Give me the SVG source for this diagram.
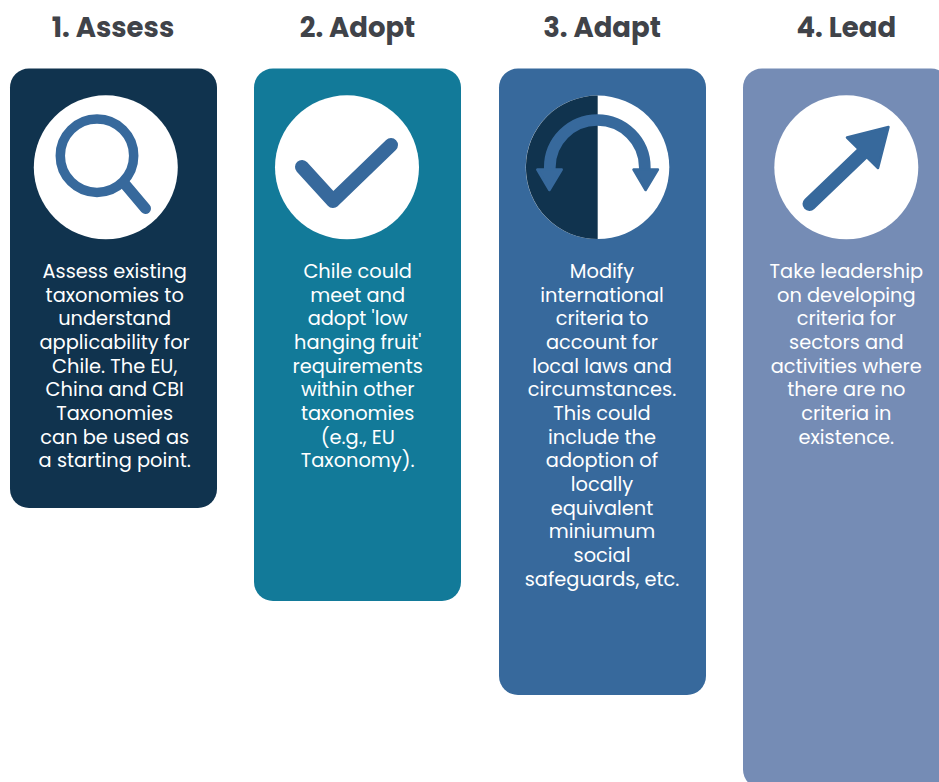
<svg xmlns="http://www.w3.org/2000/svg" width="939" height="782" viewBox="0 0 939 782">
<style>
.h{font-family:Poppins,"Open Sans","Liberation Sans",sans-serif;font-size:27.5px;font-weight:700;fill:#404349;text-anchor:middle}
.t{font-family:Poppins,Lato,"Noto Sans","Liberation Sans",sans-serif;font-size:19.4px;fill:#fff;text-anchor:middle}
.i{fill:none;stroke:#37699c;stroke-linecap:round;stroke-linejoin:round}
.a{fill:#37699c;stroke:#37699c;stroke-width:2.5;stroke-linejoin:round}
</style>
<rect width="939" height="782" fill="#fff"/>
<g id="n1"><text class="h" x="113" y="37">1. Assess</text><rect x="10" y="68.5" width="207" height="439.5" rx="19" fill="#10334e"/><circle cx="105.8" cy="167.3" r="72" fill="#fff"/>
<circle class="i" cx="97" cy="155.7" r="36.7" stroke-width="9.5"/><path class="i" d="M124 183L145.500 208.500" stroke-width="11"/>
<text class="t"><tspan x="114.700" y="278">Assess existing</tspan><tspan x="114.700" y="302">taxonomies to</tspan><tspan x="114.700" y="325">understand</tspan><tspan x="114.700" y="349">applicability for</tspan><tspan x="114.700" y="373">Chile. The EU,</tspan><tspan x="114.700" y="396">China and CBI</tspan><tspan x="114.700" y="420">Taxonomies</tspan><tspan x="114.700" y="444">can be used as</tspan><tspan x="114.700" y="467">a starting point.</tspan></text></g>
<g id="n2"><text class="h" x="357.500" y="37">2. Adopt</text><rect x="254" y="68.5" width="207" height="532.5" rx="19" fill="#127a99"/><circle cx="347" cy="167.3" r="72" fill="#fff"/>
<path class="i" d="M302 167L333 201L391 145" stroke-width="14"/>
<text class="t"><tspan x="357.700" y="278">Chile could</tspan><tspan x="357.700" y="302">meet and</tspan><tspan x="357.700" y="325">adopt 'low</tspan><tspan x="357.700" y="349">hanging fruit'</tspan><tspan x="357.700" y="373">requirements</tspan><tspan x="357.700" y="396">within other</tspan><tspan x="357.700" y="420">taxonomies</tspan><tspan x="357.700" y="444">(e.g., EU</tspan><tspan x="357.700" y="467">Taxonomy).</tspan></text></g>
<g id="n3"><text class="h" x="602" y="37">3. Adapt</text><rect x="499" y="68.5" width="207" height="626.5" rx="19" fill="#37699c"/><circle cx="597.500" cy="167.300" r="71.800" fill="#fff"/><path d="M597.700 95.500A71.800 71.800 0 0 0 597.700 239.100Z" fill="#10334e"/>
<path class="i" d="M549.800 170V167.500A47.500 47.500 0 0 1 644.800 167.500V170" stroke-width="11.700" stroke-linecap="butt"/><path class="a" d="M537.300 169.500H561.700L549.400 190Z"/><path class="a" d="M633.500 169.500H657.900L645.600 190Z"/>
<text class="t"><tspan x="602" y="278">Modify</tspan><tspan x="602" y="302">international</tspan><tspan x="602" y="325">criteria to</tspan><tspan x="602" y="349">account for</tspan><tspan x="602" y="373">local laws and</tspan><tspan x="602" y="396">circumstances.</tspan><tspan x="602" y="420">This could</tspan><tspan x="602" y="444">include the</tspan><tspan x="602" y="467">adoption of</tspan><tspan x="602" y="491">locally</tspan><tspan x="602" y="515">equivalent</tspan><tspan x="602" y="538">miniumum</tspan><tspan x="602" y="562">social</tspan><tspan x="602" y="586">safeguards, etc.</tspan></text></g>
<g id="n4"><text class="h" x="846.300" y="37">4. Lead</text><rect x="743" y="68.500" width="207" height="720" rx="19" fill="#758cb5"/><circle cx="846.300" cy="167.300" r="72" fill="#fff"/>
<path class="i" d="M809.500 204L868 148" stroke-width="14"/><path class="a" d="M847 137.500L888.500 127L878 168Z"/>
<text class="t"><tspan x="846.300" y="278">Take leadership</tspan><tspan x="846.300" y="302">on developing</tspan><tspan x="846.300" y="325">criteria for</tspan><tspan x="846.300" y="349">sectors and</tspan><tspan x="846.300" y="373">activities where</tspan><tspan x="846.300" y="396">there are no</tspan><tspan x="846.300" y="420">criteria in</tspan><tspan x="846.300" y="444">existence.</tspan></text></g>
<g id="connectors"></g>
</svg>
